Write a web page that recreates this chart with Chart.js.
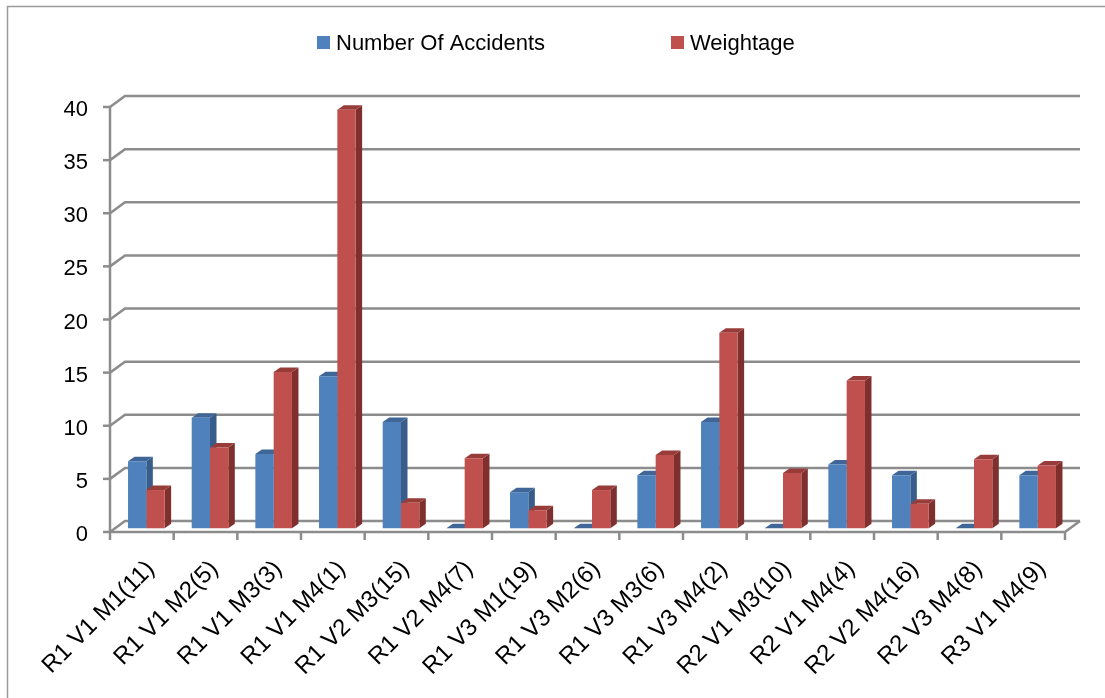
<!DOCTYPE html>
<html>
<head>
<meta charset="utf-8">
<script src="https://cdn.jsdelivr.net/npm/chart.js@4.4.1/dist/chart.umd.min.js"></script>
<style>
  html, body { margin: 0; padding: 0; background: #ffffff; }
  canvas { display: block; }
</style>
</head>
<body>
<canvas id="chart" width="1105" height="698"></canvas>
<script>
// Route / vehicle / month combinations (rank in brackets)
const categories = [
  'R1 V1 M1(11)', 'R1 V1 M2(5)', 'R1 V1 M3(3)', 'R1 V1 M4(1)', 'R1 V2 M3(15)',
  'R1 V2 M4(7)', 'R1 V3 M1(19)', 'R1 V3 M2(6)', 'R1 V3 M3(6)', 'R1 V3 M4(2)',
  'R2 V1 M3(10)', 'R2 V1 M4(4)', 'R2 V2 M4(16)', 'R2 V3 M4(8)', 'R3 V1 M4(9)'
];
const accidents = [6.3, 10.4, 7, 14.3, 10, 0, 3.4, 0, 5, 10, 0, 6, 5, 0, 5];
const weightage = [3.6, 7.6, 14.7, 39.4, 2.4, 6.6, 1.7, 3.6, 6.9, 18.4, 5.2, 13.9, 2.3, 6.5, 5.9];
const yTicks = [0, 5, 10, 15, 20, 25, 30, 35, 40];

const FONT = "'Liberation Sans', Arial, sans-serif";
const GRID = '#8c8c8c';
const WALL = { dx: 15, dy: -11 };       // back wall offset from the front plane
const BAR_SHIFT = { dx: 4.5, dy: -3.7 }; // bars stand half way into the floor
const BAR_DEPTH = { dx: 6.5, dy: -4.5 }; // depth of each column

function poly(ctx, pts) {
  ctx.beginPath();
  ctx.moveTo(pts[0][0], pts[0][1]);
  for (let i = 1; i < pts.length; i++) ctx.lineTo(pts[i][0], pts[i][1]);
  ctx.closePath();
  ctx.fill();
}

function line(ctx, pts) {
  ctx.beginPath();
  ctx.moveTo(pts[0][0], pts[0][1]);
  for (let i = 1; i < pts.length; i++) ctx.lineTo(pts[i][0], pts[i][1]);
  ctx.stroke();
}

const depthPlugin = {
  id: 'depth3d',
  beforeDatasetsDraw(chart) {
    const { ctx, chartArea: a, scales: { x, y } } = chart;
    const y0 = y.getPixelForValue(0);

    ctx.save();
    ctx.strokeStyle = GRID;
    ctx.lineWidth = 2.5;
    // side wall + back wall gridlines, front tick marks
    yTicks.forEach(v => {
      const py = y.getPixelForValue(v);
      line(ctx, [[a.left, py], [a.left + WALL.dx, py + WALL.dy], [a.right + WALL.dx, py + WALL.dy]]);
      line(ctx, [[a.left - 7, py], [a.left, py]]);
    });
    // front value axis
    line(ctx, [[a.left, y.getPixelForValue(yTicks[yTicks.length - 1])], [a.left, y0]]);
    // floor front and right edges
    line(ctx, [[a.left, y0], [a.right, y0], [a.right + WALL.dx, y0 + WALL.dy]]);
    // category boundary ticks
    const half = (x.getPixelForValue(1) - x.getPixelForValue(0)) / 2;
    for (let i = 0; i <= categories.length; i++) {
      const bx = (i < categories.length ? x.getPixelForValue(i) - half : x.getPixelForValue(i - 1) + half);
      line(ctx, [[bx, y0], [bx, y0 + 8]]);
    }
    ctx.restore();

    // push the columns into depth; side and top faces go first, fronts are painted by the library
    ctx.save();
    ctx.translate(BAR_SHIFT.dx, BAR_SHIFT.dy);
    chart.data.datasets.forEach((ds, di) => {
      const meta = chart.getDatasetMeta(di);
      meta.data.forEach(bar => {
        const { x: cx, y: top, base, width } = bar.getProps(['x', 'y', 'base', 'width'], true);
        const l = cx - width / 2, r = cx + width / 2;
        ctx.fillStyle = ds.sideColor;
        poly(ctx, [[r, top], [r + BAR_DEPTH.dx, top + BAR_DEPTH.dy], [r + BAR_DEPTH.dx, base + BAR_DEPTH.dy], [r, base]]);
        ctx.fillStyle = ds.topColor;
        poly(ctx, [[l, top], [r, top], [r + BAR_DEPTH.dx, top + BAR_DEPTH.dy], [l + BAR_DEPTH.dx, top + BAR_DEPTH.dy]]);
      });
    });
  },
  afterDatasetsDraw(chart) {
    chart.ctx.restore();
  },
  afterDraw(chart) {
    const { ctx } = chart;
    ctx.save();
    // outer frame
    ctx.strokeStyle = '#9a9a9a';
    ctx.lineWidth = 1.5;
    line(ctx, [[7.5, chart.height], [7.5, 6.5], [chart.width, 6.5]]);

    // legend
    const items = [
      { x: 317, ds: chart.data.datasets[0] },
      { x: 671, ds: chart.data.datasets[1] }
    ];
    ctx.font = '22px ' + FONT;
    ctx.textBaseline = 'alphabetic';
    ctx.textAlign = 'left';
    items.forEach(it => {
      ctx.fillStyle = it.ds.backgroundColor;
      ctx.fillRect(it.x, 36, 13, 13);
      ctx.fillStyle = '#000000';
      ctx.fillText(it.ds.label, it.x + 19, 50);
    });
    ctx.restore();
  }
};

new Chart(document.getElementById('chart'), {
  type: 'bar',
  data: {
    labels: categories,
    datasets: [
      {
        label: 'Number Of Accidents',
        data: accidents,
        backgroundColor: '#4f81bd',
        sideColor: '#385d8a',
        topColor: '#3f6696',
        borderWidth: 0,
        clip: false
      },
      {
        label: 'Weightage',
        data: weightage,
        backgroundColor: '#c0504d',
        sideColor: '#7f302e',
        topColor: '#983c39',
        borderWidth: 0,
        clip: false
      }
    ]
  },
  options: {
    responsive: false,
    animation: false,
    events: [],
    layout: { padding: { top: 107, right: 40, left: 0, bottom: 0 } },
    datasets: { bar: { categoryPercentage: 0.575, barPercentage: 1 } },
    plugins: {
      legend: { display: false },
      tooltip: { enabled: false }
    },
    scales: {
      x: {
        grid: { display: false, drawTicks: false },
        border: { display: false },
        ticks: {
          font: { family: FONT, size: 24 },
          color: '#000000',
          minRotation: 45,
          maxRotation: 45,
          autoSkip: false,
          padding: 23,
          labelOffset: 9
        },
        afterFit(scale) { scale.height = 698 - 532; }
      },
      y: {
        min: 0,
        max: 40,
        grid: { display: false, drawTicks: false },
        border: { display: false },
        ticks: {
          stepSize: 5,
          font: { family: FONT, size: 22 },
          color: '#000000',
          padding: 22,
          labelOffset: 3
        },
        afterFit(scale) { scale.width = 110; }
      }
    }
  },
  plugins: [depthPlugin]
});
</script>
</body>
</html>
